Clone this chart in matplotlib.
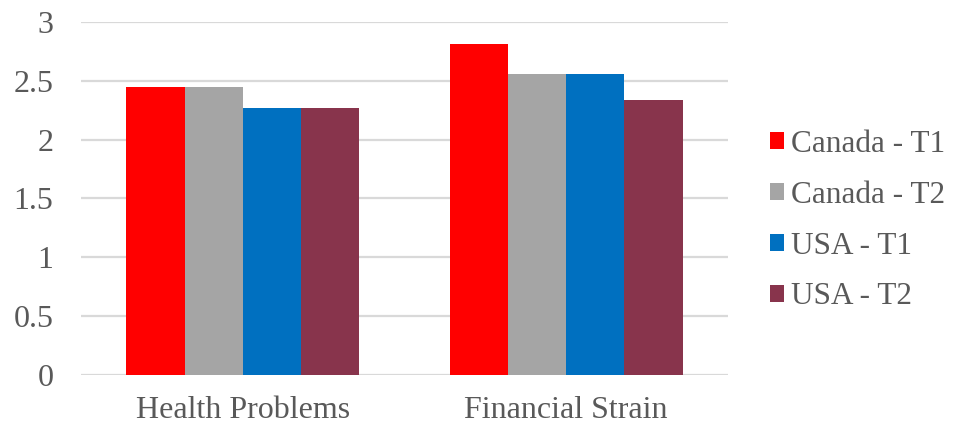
import matplotlib.pyplot as plt
import numpy as np

categories = ["Health Problems", "Financial Strain"]
series = ["Canada - T1", "Canada - T2", "USA - T1", "USA - T2"]
canada_t1 = [2.45, 2.81]
canada_t2 = [2.45, 2.56]
usa_t1 = [2.27, 2.56]
usa_t2 = [2.27, 2.34]
colors = ["#FF0000", "#A5A5A5", "#0070C0", "#88344C"]

plt.rcParams['font.family'] = 'serif'
plt.rcParams['font.serif'] = ['Liberation Serif', 'Times New Roman', 'DejaVu Serif']

fig = plt.figure(figsize=(9.67, 4.26), dpi=100)
ax = fig.add_axes([0.0838, 0.1197, 0.669, 0.8287])

x = np.arange(len(categories))
w = 0.18
for i, (name, vals) in enumerate(zip(series, [canada_t1, canada_t2, usa_t1, usa_t2])):
    ax.bar(x + (i - 1.5) * w, vals, w, color=colors[i], label=name, zorder=3)

ax.set_xlim(-0.5, 1.5)
ax.set_ylim(0, 3)
ax.set_yticks(np.arange(0, 3.01, 0.5))
ax.set_yticklabels(["0", "0.5", "1", "1.5", "2", "2.5", "3"])
ax.set_xticks(x)
ax.set_xticklabels(categories)
ax.grid(axis='y', color='#D9D9D9', linewidth=1.6, zorder=0)
for s in ax.spines.values():
    s.set_visible(False)
ax.tick_params(axis='y', length=0, pad=20, labelsize=23, labelcolor='#595959')
ax.tick_params(axis='x', length=0, pad=15, labelsize=23, labelcolor='#595959')

leg = fig.legend(loc='center left', bbox_to_anchor=(0.796, 0.482), frameon=False,
                 fontsize=22.5, handlelength=0.47, handleheight=0.47, handletextpad=0.2,
                 labelspacing=0.7, borderpad=0, borderaxespad=0)
for t in leg.get_texts():
    t.set_color('#595959')

fig.savefig("out.png", dpi=100)
